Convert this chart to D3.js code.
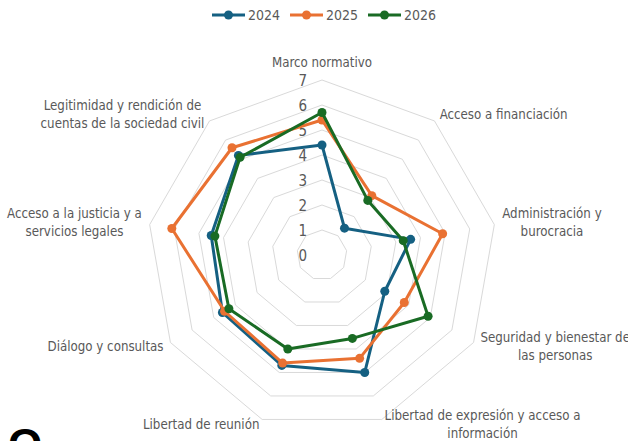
<!DOCTYPE html>
<html>
<head>
<meta charset="utf-8">
<script src="https://cdn.jsdelivr.net/npm/d3@7"></script>
<style>
  html, body { margin: 0; padding: 0; background: #fff; }
  svg { display: block; }
  text { font-family: "Liberation Sans Narrow", "DejaVu Sans Condensed", "Liberation Sans", sans-serif; fill: #595959; }
</style>
</head>
<body>
<svg id="chart" width="628" height="441"></svg>
<script>
// Dimensions rated on a 0–7 scale
const categories = [
  "Marco normativo",
  "Acceso a financiación",
  "Administración y\nburocracia",
  "Seguridad y bienestar de\nlas personas",
  "Libertad de expresión y acceso a\ninformación",
  "Libertad de reunión",
  "Diálogo y consultas",
  "Acceso a la justicia y a\nservicios legales",
  "Legitimidad y rendición de\ncuentas de la sociedad civil"
];
const seriesNames = ["2024", "2025", "2026"];
const values2024 = [4.4, 1.4, 3.6, 2.9, 5.0, 4.7, 4.6, 4.5, 5.2];
const values2025 = [5.4, 3.1, 4.9, 3.8, 4.4, 4.6, 4.5, 6.1, 5.6];
const values2026 = [5.7, 2.85, 3.3, 4.9, 3.55, 4.0, 4.3, 4.35, 5.1];
const tickValues = [0, 1, 2, 3, 4, 5, 6, 7];
const seriesColors = ["#156082", "#E97132", "#196B24"];

const series = seriesNames.map((name, i) => ({
  name,
  values: [values2024, values2025, values2026][i],
  color: seriesColors[i]
}));

const cx = 322, cy = 255, outerR = 175;
const svg = d3.select("#chart");

const r = d3.scaleLinear().domain([0, d3.max(tickValues)]).range([0, outerR]);
const angle = d3.scaleLinear().domain([0, categories.length]).range([0, 2 * Math.PI]);

const g = svg.append("g").attr("transform", `translate(${cx},${cy})`);

const radial = d3.lineRadial()
  .angle((d, i) => angle(i))
  .radius(d => r(d))
  .curve(d3.curveLinearClosed);

// Concentric grid polygons
g.append("g").selectAll("path")
  .data(tickValues.filter(v => v > 0))
  .join("path")
  .attr("d", v => radial(categories.map(() => v)))
  .attr("fill", "none")
  .attr("stroke", "#d9d9d9")
  .attr("stroke-width", 1);

// Value labels along the top axis
g.append("g").selectAll("text")
  .data(tickValues)
  .join("text")
  .attr("x", -15)
  .attr("y", v => -r(v) + 1)
  .attr("text-anchor", "end")
  .attr("dominant-baseline", "middle")
  .style("font-size", "15px")
  .text(v => v);

// Series polygons and markers
const sg = g.append("g").selectAll("g")
  .data(series)
  .join("g");

sg.append("path")
  .attr("d", d => radial(d.values))
  .attr("fill", "none")
  .attr("stroke", d => d.color)
  .attr("stroke-width", 3)
  .attr("stroke-linejoin", "round");

sg.selectAll("circle")
  .data(d => d.values.map((v, i) => ({ v, i, color: d.color })))
  .join("circle")
  .attr("cx", d => d3.pointRadial(angle(d.i), r(d.v))[0])
  .attr("cy", d => d3.pointRadial(angle(d.i), r(d.v))[1])
  .attr("r", 4.5)
  .attr("fill", d => d.color);

// Category labels placed just beyond each outer vertex
const lineH = 18;
g.append("g").selectAll("text")
  .data(categories.map((c, i) => ({ lines: c.split("\n"), i })))
  .join("text")
  .style("font-size", "13.2px")
  .attr("text-anchor", "middle")
  .each(function (d) {
    const a = angle(d.i);
    const [ax, ay] = d3.pointRadial(a, outerR + 8);
    const sx = Math.sin(a), sy = -Math.cos(a);
    const sel = d3.select(this);
    const n = d.lines.length;
    let blockCenterY = ay;
    if (Math.abs(sx) < 0.1) {
      blockCenterY = sy < 0 ? ay - (n * lineH) / 2 : ay + (n * lineH) / 2;
    } else if (sy > 0.9) {
      blockCenterY = ay - 2;
    }
    // widest line sets how far the centred block sits from the vertex
    const probe = sel.append("tspan");
    let w = 0;
    d.lines.forEach(l => { probe.text(l); w = Math.max(w, probe.node().getComputedTextLength()); });
    probe.remove();
    let x = ax;
    if (sx > 0.1) x = ax + w / 2;
    else if (sx < -0.1) x = ax - w / 2;
    d.lines.forEach((l, k) => {
      sel.append("tspan")
        .attr("x", x)
        .attr("y", blockCenterY + (k - (n - 1) / 2) * lineH)
        .attr("dominant-baseline", "middle")
        .text(l);
    });
  });

// Legend
const legend = svg.append("g").attr("transform", "translate(212,15)");
const item = legend.selectAll("g")
  .data(series)
  .join("g")
  .attr("transform", (d, i) => `translate(${i * 78},0)`);
item.append("line")
  .attr("x1", 0).attr("x2", 33).attr("y1", 0).attr("y2", 0)
  .attr("stroke", d => d.color).attr("stroke-width", 3);
item.append("circle")
  .attr("cx", 16.5).attr("cy", 0).attr("r", 4.5)
  .attr("fill", d => d.color);
item.append("text")
  .attr("x", 36).attr("y", 1)
  .attr("dominant-baseline", "middle")
  .style("font-size", "14px")
  .text(d => d.name);

// Heading that begins below the chart
svg.append("text")
  .attr("x", 8).attr("y", 460)
  .style("font-family", "'Liberation Sans', sans-serif")
  .style("font-weight", "bold")
  .style("font-size", "44px")
  .style("fill", "#000")
  .text("O");
</script>
</body>
</html>
